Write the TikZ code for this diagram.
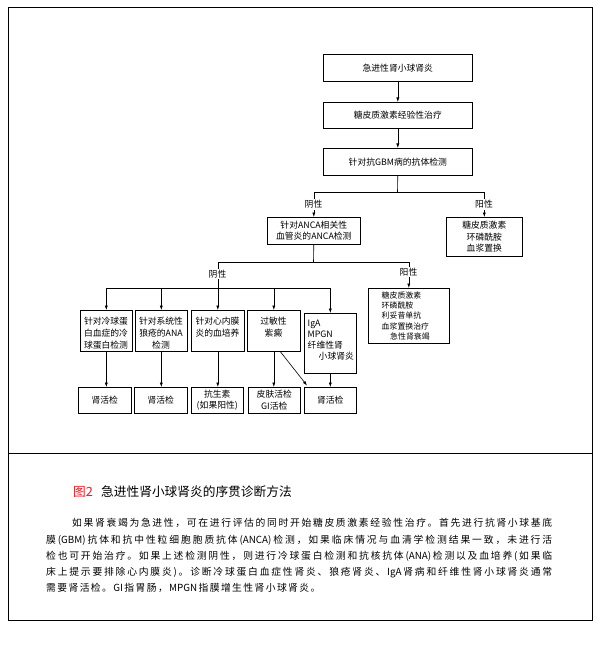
\documentclass[tikz,border=0pt]{standalone}
\usepackage{fontspec}
\setmainfont{Noto Sans CJK SC}
\usetikzlibrary{arrows.meta,calc}
\definecolor{figred}{RGB}{228,30,38}
\makeatletter
\newcommand\jline[2]{\makebox[#1][s]{\@tfor\jx:=#2\do{\jx\hfil}\unskip}}
\newcommand\gline[2]{\@tfor\jx:=#2\do{\jx\hspace{#1}}\unskip}
\makeatother
\newcommand\bx[6]{\node[box, anchor=north west, minimum width={(#4-#2)*1pt}, minimum height={(#5-#3)*1pt}] (#1) at (#2,#3) {#6};}
\begin{document}
\begin{tikzpicture}[x=1pt,y=-1pt,
 box/.style={draw=black, line width=0.6pt, inner sep=0pt, align=center, font=\fontsize{8.8}{11.5}\selectfont},
 txt/.style={inner sep=0pt, font=\fontsize{8.8}{12}\selectfont},
 con/.style={line width=0.6pt},
 arr/.style={con, -{Latex[length=4.5pt,width=3.2pt]}},
 lbl/.style={fill=white, inner sep=1pt, font=\fontsize{8.8}{10}\selectfont},
 body/.style={inner sep=0pt, anchor=base west, font=\fontsize{9.8}{12}\selectfont}]
\fill[white] (0,0) rectangle (608,660);
\useasboundingbox (0,0) rectangle (608,660);
\draw[line width=1pt] (8,8) rectangle (592,620);
\draw[line width=1pt] (8,453) -- (592,453);
% boxes
\bx{n1}{323}{54}{472}{81}{急进性肾小球肾炎}
\bx{n2}{323}{102}{472}{128}{糖皮质激素经验性治疗}
\bx{n3}{323}{148}{472}{175}{针对抗GBM病的抗体检测}
\bx{anca}{267}{217}{360}{244}{针对ANCA相关性\\血管炎的ANCA检测}
\bx{p1}{446}{217}{522}{256}{糖皮质激素\\环磷酰胺\\血浆置换}
\bx{d}{368}{288}{449}{343}{}
\bx{b1}{80}{310}{132}{351}{}
\bx{b2}{135}{310}{187}{351}{}
\bx{b3}{191}{310}{244}{351}{}
\bx{b4}{247}{310}{300}{351}{}
\bx{b5}{304}{313}{356}{373}{}
\bx{c1}{78}{387}{131}{413}{肾活检}
\bx{c2}{134}{387}{187}{413}{肾活检}
\bx{c3}{191}{387}{243}{413}{抗生素\\(如果阳性)}
\bx{c4}{248}{387}{300}{413}{皮肤活检\\GI活检}
\bx{c5}{304}{387}{356}{413}{肾活检}
% box texts
\node[txt, anchor=north, align=center] (b1t) at (106,316.5) {针对冷球蛋\\白血症的冷\\球蛋白检测};
\node[txt, anchor=north, align=center] (b2t) at (161,316.5) {针对系统性\\狼疮的ANA\\检测};
\node[txt, anchor=north, align=center] (b3t) at (217.5,316.5) {针对心内膜\\炎的血培养};
\node[txt, anchor=north, align=center] (b4t) at (273.5,316.5) {过敏性\\紫癜};
\node[txt, anchor=north west, align=left, font=\fontsize{8.8}{11}\selectfont] (b5t) at (307.5,319.5) {IgA\\MPGN\\纤维性肾\\\hspace*{11pt}小球肾炎};
\node[txt, anchor=north west, align=left, font=\fontsize{7.9}{10.3}\selectfont] (dt) at (381.5,291.3) {糖皮质激素\\环磷酰胺\\利妥昔单抗\\血浆置换治疗\\\hspace*{8.5pt}急性肾衰竭};
% connectors
\coordinate (j1) at (397.5,192);
\draw[arr] (n1) -- (n2);
\draw[arr] (n2) -- (n3);
\draw[con] (n3.south) -- (j1);
\draw[con] (anca.north |- j1) -- (p1.north |- j1);
\draw[arr] (anca.north |- j1) -- (anca.north);
\draw[arr] (p1.north |- j1) -- (p1.north);
\node[lbl] (l1) at (313.5,204.5) {阴性};
\node[lbl] (l2) at (484,204.5) {阳性};
\coordinate (j2) at (313.5,262);
\draw[con] (anca.south) -- (j2);
\draw[con] (b3.north |- j2) -- (d.north |- j2);
\draw[arr] (b3.north |- j2) -- (b3.north);
\draw[arr] (d.north |- j2) -- (d.north);
\coordinate (j3) at (0,288);
\draw[con] (b1.north |- j3) -- (b5.north |- j3);
\foreach \b in {b1,b2,b4,b5} \draw[arr] (\b.north |- j3) -- (\b.north);
\node[lbl] (l3) at (217.5,274) {阴性};
\node[lbl] (l4) at (408.5,272) {阳性};
\draw[arr] (b1.south) -- (b1.south |- c1.north);
\draw[arr] (b2.south) -- (b2.south |- c2.north);
\draw[arr] (b3.south) -- (b3.south |- c3.north);
\draw[arr] (b4.south) -- (b4.south |- c4.north);
\draw[arr] (b5.south) -- (b5.south |- c5.north);
\draw[arr] ($(b4.south)+(6.5,0)$) -- ($(c5.north west)+(3,-1.5)$);
% caption
\node[body, font=\fontsize{12.7}{14}\selectfont, text=figred] (fig) at (73,496.8) {图2};
\node[body, font=\fontsize{12.7}{14}\selectfont] (cap) at (101,496.8) {急进性肾小球肾炎的序贯诊断方法};
% body text
\node[body] (t1) at (72,526.7) {\jline{480pt}{如果肾衰竭为急进性，可在进行评估的同时开始糖皮质激素经验性治疗。首先进行抗肾小球基底}};
\node[body] (t2) at (46,543.2) {\jline{506pt}{膜{(GBM)}抗体和抗中性粒细胞胞质抗体{(ANCA)}检测，如果临床情况与血清学检测结果一致，未进行活}};
\node[body] (t3) at (46,559.7) {\jline{506pt}{检也可开始治疗。如果上述检测阴性，则进行冷球蛋白检测和抗核抗体{(ANA)}检测以及血培养(如果临}};
\node[body] (t4) at (46,575.7) {\jline{506pt}{床上提示要排除心内膜炎)。诊断冷球蛋白血症性肾炎、狼疮肾炎、{IgA}肾病和纤维性肾小球肾炎通常}};
\node[body] (t5) at (46,591.7) {\gline{1.4pt}{需要肾活检。{GI}指胃肠，{MPGN}指膜增生性肾小球肾炎。}};
\end{tikzpicture}
\end{document}
